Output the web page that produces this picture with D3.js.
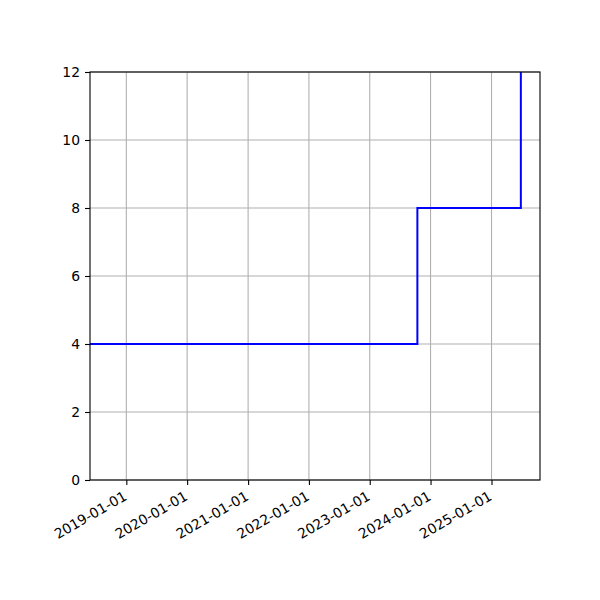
<!DOCTYPE html>
<html>
<head>
<meta charset="utf-8">
<script src="https://cdn.jsdelivr.net/npm/d3@7"></script>
<style>
  body { margin: 0; background: #fff; }
  text { font-family: "DejaVu Sans", sans-serif; }
</style>
</head>
<body>
<div id="visualization"></div>
<script>
/*************************************/
/* Data                              */
/*************************************/

// Step change dates and the value that holds from each date on
const stepDates = ['2018-05-28', '2023-10-14', '2025-06-26'];
const stepValues = [4, 8, 12];

// Axis extents and ticks
const xExtent = ['2018-05-28', '2025-10-19'];
const yExtent = [0, 12];
const xTickLabels = ['2019-01-01', '2020-01-01', '2021-01-01', '2022-01-01',
                     '2023-01-01', '2024-01-01', '2025-01-01'];
const yTicks = [0, 2, 4, 6, 8, 10, 12];


/*************************************/
/* Layout                            */
/*************************************/

const width = 600;
const height = 600;
const margin = { top: 72, right: 60, bottom: 120, left: 90 };
const parse = d3.utcParse('%Y-%m-%d');

const points = stepDates.map((d, i) => ({ date: parse(d), value: stepValues[i] }));

const x = d3.scaleUtc()
  .domain(xExtent.map(parse))
  .range([margin.left, width - margin.right]);

const y = d3.scaleLinear()
  .domain(yExtent)
  .range([height - margin.bottom, margin.top]);

const svg = d3.select('#visualization')
  .append('svg')
  .attr('width', width)
  .attr('height', height);


/*************************************/
/* Grid                              */
/*************************************/

const grid = svg.append('g')
  .attr('stroke', '#b0b0b0')
  .attr('stroke-width', 1.1);

grid.selectAll('.vgrid')
  .data(xTickLabels.map(parse))
  .join('line')
    .attr('x1', d => x(d)).attr('x2', d => x(d))
    .attr('y1', margin.top).attr('y2', height - margin.bottom);

grid.selectAll('.hgrid')
  .data(yTicks)
  .join('line')
    .attr('y1', d => y(d)).attr('y2', d => y(d))
    .attr('x1', margin.left).attr('x2', width - margin.right);


/*************************************/
/* Step line                         */
/*************************************/

const line = d3.line()
  .x(d => x(d.date))
  .y(d => y(d.value))
  .curve(d3.curveStepAfter);

svg.append('defs').append('clipPath').attr('id', 'clip')
  .append('rect')
    .attr('x', margin.left).attr('y', margin.top)
    .attr('width', width - margin.left - margin.right)
    .attr('height', height - margin.top - margin.bottom);

svg.append('path')
  .datum(points)
  .attr('clip-path', 'url(#clip)')
  .attr('fill', 'none')
  .attr('stroke', '#0000ff')
  .attr('stroke-width', 2)
  .attr('d', line);


/*************************************/
/* Axes                              */
/*************************************/

const xAxis = svg.append('g')
  .attr('transform', `translate(0,${height - margin.bottom})`)
  .call(d3.axisBottom(x)
    .tickValues(xTickLabels.map(parse))
    .tickFormat(d3.utcFormat('%Y-%m-%d'))
    .tickSize(5));

// rotated labels: top-right corner sits just under the tick
xAxis.selectAll('text')
  .attr('font-family', '"DejaVu Sans", sans-serif')
  .attr('font-size', 13.9)
  .attr('fill', '#000')
  .attr('text-anchor', 'end')
  .attr('y', 0)
  .attr('dy', 0)
  .attr('transform', 'translate(1,19) rotate(-30)');

const yAxis = svg.append('g')
  .attr('transform', `translate(${margin.left},0)`)
  .call(d3.axisLeft(y).tickValues(yTicks).tickSize(5).tickPadding(5));

yAxis.selectAll('text')
  .attr('font-family', '"DejaVu Sans", sans-serif')
  .attr('font-size', 13.9)
  .attr('fill', '#000');

svg.selectAll('.domain').remove();
svg.selectAll('.tick line').attr('stroke', '#000').attr('stroke-width', 1.1);

// frame
svg.append('rect')
  .attr('x', margin.left).attr('y', margin.top)
  .attr('width', width - margin.left - margin.right)
  .attr('height', height - margin.top - margin.bottom)
  .attr('fill', 'none')
  .attr('stroke', '#000')
  .attr('stroke-width', 1.1);
</script>
</body>
</html>
